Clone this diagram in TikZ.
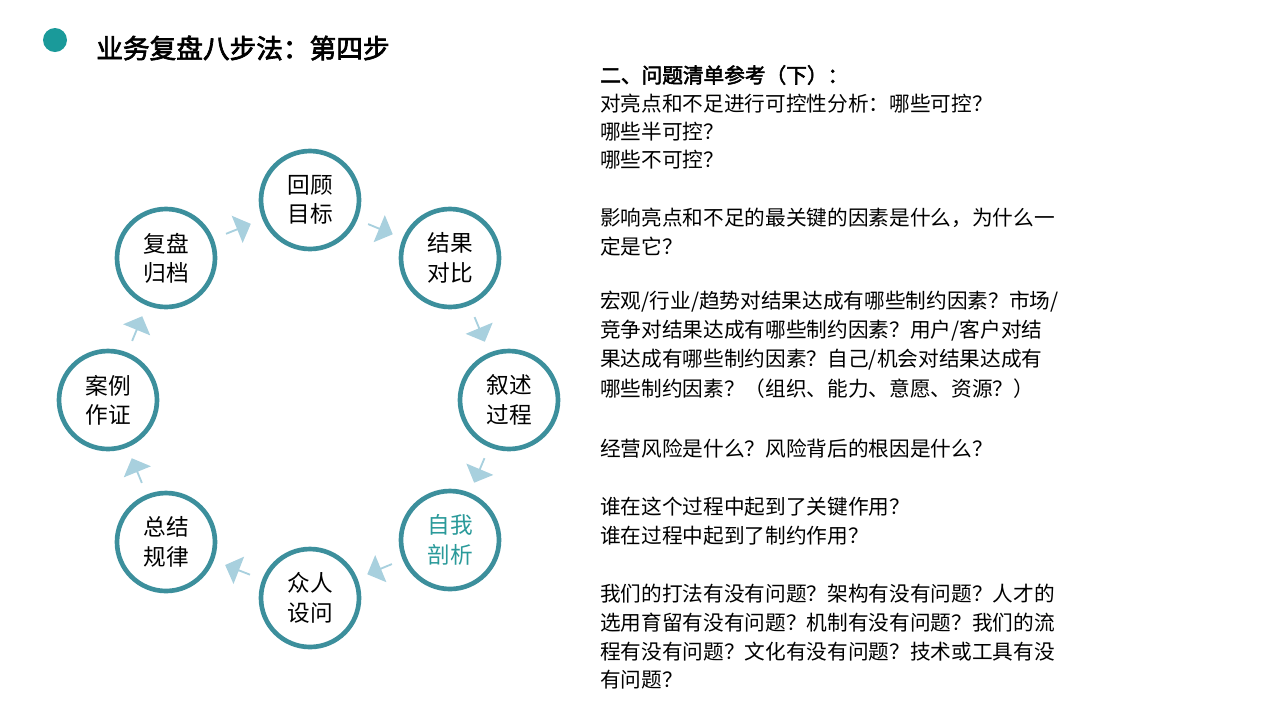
\documentclass[tikz,border=0pt]{standalone}
\usepackage{fontspec}
\setmainfont{Noto Sans CJK SC}[AutoFakeBold=2.5]
\usetikzlibrary{shapes.arrows,calc}
\definecolor{teal1}{HTML}{3C8F9C}
\definecolor{dotc}{HTML}{1A9A9A}
\definecolor{arr}{HTML}{A8D0DE}
\definecolor{hl}{HTML}{2A9A9A}
\tikzset{
 stepc/.style={circle,draw=teal1,line width=3.5pt,fill=white,minimum size=73.5pt,inner sep=0pt,align=center,font=\fontsize{17}{22}\selectfont},
 arw/.style={single arrow,fill=arr,draw=none,minimum height=20pt,minimum width=22pt,single arrow head extend=3pt,inner sep=0pt},
 ln/.style={anchor=west,inner sep=0pt,font=\fontsize{15.5}{18}\selectfont}
}
\begin{document}
\begin{tikzpicture}[x=0.75pt,y=-0.75pt]
\useasboundingbox (0,0) rectangle (1280,719);
\fill[dotc] (55,40) circle (12);
\node[anchor=west,inner sep=0pt,font=\fontsize{20}{24}\selectfont\bfseries] (title) at (96,48) {业务复盘八步法：第四步};
\node[stepc] (a) at (310,200) {回顾\\目标};
\node[stepc] (b) at (450,258) {结果\\对比};
\node[stepc] (c) at (509,400) {叙述\\过程};
\node[stepc,text=hl] (d) at (450,540) {自我\\剖析};
\node[stepc] (e) at (310,598) {众人\\设问};
\node[stepc] (f) at (166,542) {总结\\规律};
\node[stepc] (g) at (108,400) {案例\\作证};
\node[stepc] (h) at (166,258) {复盘\\归档};
\foreach \u/\w in {h/a,a/b,b/c,c/d,d/e,e/f,f/g,g/h}{
  \path let \p1=($(\w)-(\u)$), \n1={atan2(\y1,\x1)} in
    node[arw,rotate=\n1] (ar\u\w) at ($(\u)!0.5!(\w)$) {};
}
\node[ln,font=\fontsize{15.5}{18}\selectfont\bfseries] (t0) at (600,75) {二、问题清单参考（下）：};
\node[ln] (t1) at (600,104) {对亮点和不足进行可控性分析：哪些可控？};
\node[ln] (t2) at (600,132) {哪些半可控？};
\node[ln] (t3) at (600,160) {哪些不可控？};
\node[ln] (t4) at (600,218) {影响亮点和不足的最关键的因素是什么，为什么一};
\node[ln] (t5) at (600,247) {定是它？};
\node[ln] (t6) at (600,302) {宏观/行业/趋势对结果达成有哪些制约因素？市场/};
\node[ln] (t7) at (600,331) {竞争对结果达成有哪些制约因素？用户/客户对结};
\node[ln] (t8) at (600,360) {果达成有哪些制约因素？自己/机会对结果达成有};
\node[ln] (t9) at (600,389) {哪些制约因素？（组织、能力、意愿、资源？）};
\node[ln] (t10) at (600,449) {经营风险是什么？风险背后的根因是什么？};
\node[ln] (t11) at (600,507) {谁在这个过程中起到了关键作用？};
\node[ln] (t12) at (600,536) {谁在过程中起到了制约作用？};
\node[ln] (t13) at (600,594) {我们的打法有没有问题？架构有没有问题？人才的};
\node[ln] (t14) at (600,623) {选用育留有没有问题？机制有没有问题？我们的流};
\node[ln] (t15) at (600,652) {程有没有问题？文化有没有问题？技术或工具有没};
\node[ln] (t16) at (600,680) {有问题？};
\end{tikzpicture}
\end{document}
